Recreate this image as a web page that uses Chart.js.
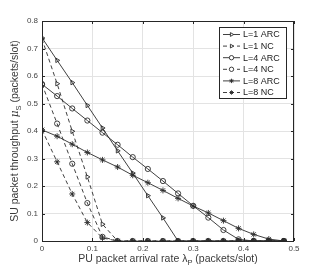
<!DOCTYPE html>
<html>
<head>
<meta charset="utf-8">
<script src="https://cdn.jsdelivr.net/npm/chart.js@4"></script>
<style>
  html, body { margin: 0; padding: 0; background: #fff; }
  #wrap { width: 326px; height: 271px; }
</style>
</head>
<body>
<div id="wrap"><canvas id="chart" width="326" height="271"></canvas></div>
<script>
// PU arrival rate (packets/slot)
const lambdaP = [0, 0.03, 0.06, 0.09, 0.12, 0.15, 0.18, 0.21, 0.24, 0.27, 0.30, 0.33, 0.36, 0.39, 0.42, 0.45, 0.48];

// SU throughput
const l1Arc = [0.739, 0.657, 0.576, 0.493, 0.411, 0.328, 0.247, 0.165, 0.084, 0, 0, 0, 0, 0, 0, 0, 0];
const l1Nc  = [0.735, 0.572, 0.399, 0.233, 0.061, 0, 0, 0, 0, 0, 0, 0, 0, 0, 0, 0, 0];
const l4Arc = [0.570, 0.527, 0.482, 0.438, 0.394, 0.350, 0.305, 0.262, 0.218, 0.173, 0.128, 0.085, 0.040, 0.006, 0, 0, 0];
const l4Nc  = [0.570, 0.427, 0.281, 0.138, 0.015, 0, 0, 0, 0, 0, 0, 0, 0, 0, 0, 0, 0];
const l8Arc = [0.404, 0.381, 0.352, 0.322, 0.295, 0.269, 0.239, 0.212, 0.184, 0.155, 0.127, 0.102, 0.074, 0.046, 0.024, 0.007, 0];
const l8Nc  = [0.404, 0.288, 0.171, 0.067, 0.011, 0, 0, 0, 0, 0, 0, 0, 0, 0, 0, 0, 0];

const labels = ["L=1 ARC", "L=1 NC", "L=4 ARC", "L=4 NC", "L=8 ARC", "L=8 NC"];
const series = [l1Arc, l1Nc, l4Arc, l4Nc, l8Arc, l8Nc];
const markers = ["triangle", "triangle", "circle", "circle", "star", "star"];

const xTicks = [0, 0.1, 0.2, 0.3, 0.4, 0.5];
const yTicks = [0, 0.1, 0.2, 0.3, 0.4, 0.5, 0.6, 0.7, 0.8];

const lineColor = "#2b2b2b";

const datasets = labels.map((label, i) => ({
  label: label,
  data: series[i].map((y, k) => ({ x: lambdaP[k], y: y })),
  borderColor: lineColor,
  backgroundColor: "rgba(0,0,0,0)",
  borderWidth: 0.9,
  borderDash: i % 2 === 1 ? [4, 3] : [],
  pointStyle: markers[i],
  pointRotation: markers[i] === "triangle" ? 90 : 0,
  pointRadius: markers[i] === "star" ? 3 : 2.6,
  pointBorderColor: lineColor,
  pointBorderWidth: 0.9,
  pointBackgroundColor: "rgba(0,0,0,0)",
  tension: 0,
}));

// box, axis titles with subscripts, legend inside plot
const decor = {
  id: "decor",
  afterDatasetsDraw(chart) {
    const ctx = chart.ctx;
    const a = chart.chartArea;
    ctx.save();
    ctx.strokeStyle = "#262626";
    ctx.lineWidth = 1;
    ctx.strokeRect(a.left + 0.5, a.top + 0.5, a.right - a.left - 1, a.bottom - a.top);

    // small inward ticks
    const xs = chart.scales.x, ys = chart.scales.y;
    ctx.beginPath();
    xTicks.forEach((v) => {
      const px = Math.round(xs.getPixelForValue(v)) + 0.5;
      ctx.moveTo(px, a.bottom); ctx.lineTo(px, a.bottom - 3);
      ctx.moveTo(px, a.top); ctx.lineTo(px, a.top + 3);
    });
    yTicks.forEach((v) => {
      const py = Math.round(ys.getPixelForValue(v)) + 0.5;
      ctx.moveTo(a.left, py); ctx.lineTo(a.left + 3, py);
      ctx.moveTo(a.right, py); ctx.lineTo(a.right - 3, py);
    });
    ctx.stroke();

    // axis titles
    ctx.fillStyle = "#3a3a3a";
    ctx.textBaseline = "alphabetic";
    const f = "10.5px 'Liberation Sans', Arial, sans-serif";
    const fs = "7.5px 'Liberation Sans', Arial, sans-serif";
    const fi = "italic 10.5px 'DejaVu Serif', serif";
    function drawParts(parts, cx, cy) {
      let w = 0;
      parts.forEach((p) => { ctx.font = p[1]; w += ctx.measureText(p[0]).width; });
      let x = cx - w / 2;
      ctx.textAlign = "left";
      parts.forEach((p) => {
        ctx.font = p[1];
        ctx.fillText(p[0], x, cy + (p[2] || 0));
        x += ctx.measureText(p[0]).width;
      });
    }
    const xMid = (a.left + a.right) / 2;
    drawParts([["PU packet arrival rate ", f], ["λ", f], ["P", fs, 3], [" (packets/slot)", f]], xMid, 262);
    ctx.save();
    ctx.translate(18, (a.top + a.bottom) / 2);
    ctx.rotate(-Math.PI / 2);
    drawParts([["SU packet throughput ", f], ["μ", fi], ["S", fs, 3], [" (packets/slot)", f]], 0, 0);
    ctx.restore();

    // legend
    const lx = 219, ly = 27, lw = 67, lh = 71;
    ctx.fillStyle = "#fff";
    ctx.fillRect(lx, ly, lw, lh);
    ctx.strokeStyle = "#262626";
    ctx.lineWidth = 1;
    ctx.strokeRect(lx + 0.5, ly + 0.5, lw, lh);
    ctx.font = "9px 'Liberation Sans', Arial, sans-serif";
    ctx.textBaseline = "middle";
    chart.data.datasets.forEach((ds, i) => {
      const yy = ly + 7.5 + i * 11.6;
      ctx.strokeStyle = lineColor;
      ctx.lineWidth = 0.9;
      ctx.setLineDash(ds.borderDash);
      ctx.beginPath();
      ctx.moveTo(lx + 4, yy); ctx.lineTo(lx + 21, yy);
      ctx.stroke();
      ctx.setLineDash([]);
      ctx.fillStyle = "#fff";
      Chart.helpers.drawPoint(ctx, {
        pointStyle: ds.pointStyle,
        rotation: ds.pointRotation,
        radius: 2.2,
        borderWidth: 0.9,
      }, lx + 12.5, yy);
      ctx.fillStyle = "#1a1a1a";
      ctx.textAlign = "left";
      ctx.fillText(ds.label, lx + 24, yy + 0.5);
    });
    ctx.restore();
  },
};

new Chart(document.getElementById("chart"), {
  type: "line",
  data: { datasets: datasets },
  options: {
    responsive: false,
    animation: false,
    layout: { padding: { top: 21, right: 32, left: 0, bottom: 0 } },
    plugins: { legend: { display: false }, tooltip: { enabled: false } },
    scales: {
      x: {
        type: "linear",
        min: 0,
        max: 0.5,
        afterBuildTicks: (s) => { s.ticks = xTicks.map((v) => ({ value: v })); },
        afterFit: (s) => { s.height = 30; },
        grid: { color: "#e3e3e3", lineWidth: 1, drawTicks: false },
        border: { display: false },
        ticks: {
          padding: 3,
          color: "#444",
          font: { size: 8, family: "'Liberation Sans', Arial, sans-serif" },
          maxRotation: 0,
          callback: (v) => String(v),
        },
      },
      y: {
        min: 0,
        max: 0.8,
        afterBuildTicks: (s) => { s.ticks = yTicks.map((v) => ({ value: v })); },
        afterFit: (s) => { s.width = 42; },
        grid: { color: "#e3e3e3", lineWidth: 1, drawTicks: false },
        border: { display: false },
        ticks: {
          padding: 4,
          color: "#444",
          font: { size: 8, family: "'Liberation Sans', Arial, sans-serif" },
          callback: (v) => String(v),
        },
      },
    },
  },
  plugins: [decor],
});
</script>
</body>
</html>
